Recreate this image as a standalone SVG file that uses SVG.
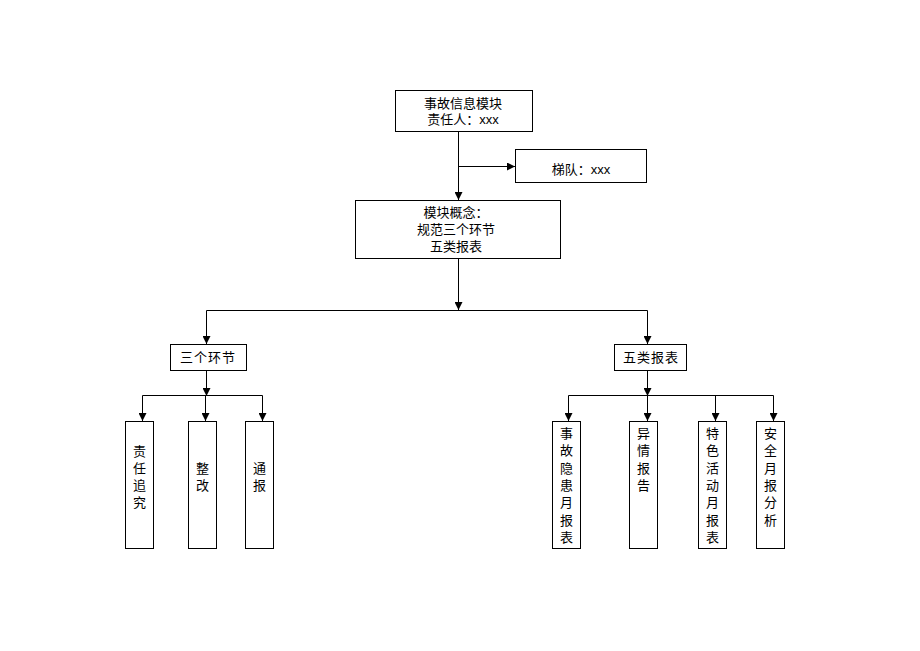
<svg xmlns="http://www.w3.org/2000/svg" width="920" height="651" viewBox="0 0 920 651">
<defs>
<marker id="arr" markerUnits="userSpaceOnUse" markerWidth="8" markerHeight="8" viewBox="0 0 8 8" refX="8" refY="4" orient="auto">
<path d="M0,0 L8,4 L0,8 Z" fill="#000"/>
</marker>
</defs>
<style>
.box{fill:#fff;stroke:#000;stroke-width:1}
.ln{fill:none;stroke:#000;stroke-width:1}
.ar{fill:none;stroke:#000;stroke-width:1;marker-end:url(#arr)}
text{font-family:"Liberation Sans","Noto Sans CJK SC",sans-serif;font-size:13px;fill:#000;text-anchor:middle}
.sp{letter-spacing:1px}
</style>
<rect width="920" height="651" fill="#fff"/>
<g id="connectors">
<path class="ar" d="M458.5,131 V200"/>
<path class="ar" d="M458.5,166.5 H515"/>
<path class="ar" d="M458.5,259 V310"/>
<path class="ln" d="M206.5,310.5 H647.5"/>
<path class="ar" d="M206.5,310.5 V344"/>
<path class="ar" d="M647.5,310.5 V344"/>
<path class="ar" d="M206.5,370 V396"/>
<path class="ln" d="M142.5,395.5 H262.5"/>
<path class="ar" d="M142.5,395.5 V421"/>
<path class="ar" d="M205.5,395.5 V421"/>
<path class="ar" d="M262.5,395.5 V421"/>
<path class="ar" d="M647.5,370 V396"/>
<path class="ln" d="M568.5,395.5 H773.5"/>
<path class="ar" d="M568.5,395.5 V421"/>
<path class="ar" d="M647.5,395.5 V421"/>
<path class="ar" d="M715.5,395.5 V421"/>
<path class="ar" d="M773.5,395.5 V421"/>
</g>
<g id="top">
<rect class="box" x="395.5" y="90.5" width="137" height="41"/>
<text x="463" y="108">事故信息模块<tspan x="463" dy="16">责任人：xxx</tspan></text>
</g>
<g id="tidui">
<rect class="box" x="515.5" y="149.5" width="131" height="33"/>
<text x="581" y="174">梯队：xxx</text>
</g>
<g id="concept">
<rect class="box" x="355.5" y="200.5" width="205" height="58"/>
<text x="456" y="217">模块概念：<tspan x="456" dy="17">规范三个环节</tspan><tspan x="456" dy="17">五类报表</tspan></text>
</g>
<g id="sange">
<rect class="box" x="170.5" y="344.5" width="76" height="26"/>
<text class="sp" x="208" y="362">三个环节</text>
</g>
<g id="wulei">
<rect class="box" x="614.5" y="344.5" width="72" height="26"/>
<text class="sp" x="651" y="362">五类报表</text>
</g>
<g id="zerenzhuijiu">
<rect class="box" x="125.5" y="421.5" width="28" height="127"/>
<text x="139.5" y="456">责<tspan x="139.5" dy="17">任</tspan><tspan x="139.5" dy="17">追</tspan><tspan x="139.5" dy="17">究</tspan></text>
</g>
<g id="zhenggai">
<rect class="box" x="188.5" y="421.5" width="28" height="127"/>
<text x="202.5" y="473">整<tspan x="202.5" dy="17">改</tspan></text>
</g>
<g id="tongbao">
<rect class="box" x="245.5" y="421.5" width="28" height="127"/>
<text x="259.5" y="473">通<tspan x="259.5" dy="17">报</tspan></text>
</g>
<g id="shiguyinhuan">
<rect class="box" x="552.5" y="421.5" width="28" height="127"/>
<text x="566.5" y="438">事<tspan x="566.5" dy="17.3">故</tspan><tspan x="566.5" dy="17.3">隐</tspan><tspan x="566.5" dy="17.3">患</tspan><tspan x="566.5" dy="17.3">月</tspan><tspan x="566.5" dy="17.3">报</tspan><tspan x="566.5" dy="17.3">表</tspan></text>
</g>
<g id="yiqing">
<rect class="box" x="629.5" y="421.5" width="28" height="127"/>
<text x="643.5" y="438">异<tspan x="643.5" dy="17.3">情</tspan><tspan x="643.5" dy="17.3">报</tspan><tspan x="643.5" dy="17.3">告</tspan></text>
</g>
<g id="tese">
<rect class="box" x="698.5" y="421.5" width="28" height="127"/>
<text x="712.5" y="438">特<tspan x="712.5" dy="17.3">色</tspan><tspan x="712.5" dy="17.3">活</tspan><tspan x="712.5" dy="17.3">动</tspan><tspan x="712.5" dy="17.3">月</tspan><tspan x="712.5" dy="17.3">报</tspan><tspan x="712.5" dy="17.3">表</tspan></text>
</g>
<g id="anquan">
<rect class="box" x="756.5" y="421.5" width="28" height="127"/>
<text x="770.5" y="438">安<tspan x="770.5" dy="17.3">全</tspan><tspan x="770.5" dy="17.3">月</tspan><tspan x="770.5" dy="17.3">报</tspan><tspan x="770.5" dy="17.3">分</tspan><tspan x="770.5" dy="17.3">析</tspan></text>
</g>
</svg>
